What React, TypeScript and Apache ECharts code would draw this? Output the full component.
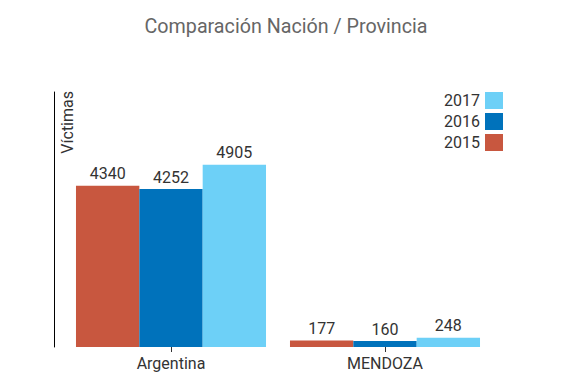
import React, { useEffect, useRef } from "react";
import * as echarts from "echarts";

const categories = ["Argentina", "MENDOZA"];
const years = ["2015", "2016", "2017"];
const values2015 = [4340, 177];
const values2016 = [4252, 160];
const values2017 = [4905, 248];
const colors = ["#c8573f", "#0072bb", "#6dd0f7"];

export default function App() {
  const ref = useRef<HTMLDivElement>(null);
  useEffect(() => {
    if (!ref.current) return;
    const chart = echarts.init(ref.current, null, { renderer: "svg" });
    const font = "Roboto, sans-serif";
    const seriesData = [values2015, values2016, values2017];
    chart.setOption({
      animation: false,
      textStyle: { fontFamily: font },
      title: {
        text: "Comparación Nación / Provincia",
        left: "center",
        top: 11,
        textStyle: { fontFamily: font, fontWeight: "normal", fontSize: 19.7, color: "#666" },
      },
      legend: {
        data: ["2017", "2016", "2015"],
        orient: "vertical",
        right: 64,
        top: 87,
        align: "right",
        itemWidth: 18,
        itemHeight: 17,
        itemGap: 4,
        icon: "rect",
        textStyle: { fontFamily: font, fontSize: 16, color: "#333" },
      },
      grid: { left: 64, right: 80, top: 92, bottom: 45 },
      xAxis: {
        type: "category",
        data: categories,
        axisLine: { show: false },
        axisTick: { show: true, alignWithLabel: true, length: 5, lineStyle: { color: "#333" } },
        axisLabel: { fontFamily: font, fontSize: 16, color: "#333", margin: 8 },
      },
      yAxis: {
        type: "value",
        min: 0,
        max: 6867,
        offset: 10,
        axisLine: { show: true, lineStyle: { color: "#000", width: 1 } },
        axisTick: { show: false },
        axisLabel: { show: false },
        splitLine: { show: false },
      },
      graphic: [
        {
          type: "text",
          x: 67,
          y: 91,
          rotation: Math.PI / 2,
          style: {
            text: "Víctimas",
            fontFamily: font,
            fontSize: 16,
            fill: "#333",
            align: "right",
            verticalAlign: "middle",
          },
        },
      ],
      series: years.map((y, i) => ({
        name: y,
        type: "bar",
        data: seriesData[i],
        barGap: "0%",
        barCategoryGap: "11.2%",
        itemStyle: { color: colors[i] },
        label: {
          show: true,
          position: "top",
          fontFamily: font,
          fontSize: 16,
          color: "#333",
          distance: 4,
        },
      })),
    });
    return () => chart.dispose();
  }, []);
  return (
    <div
      ref={ref}
      style={{ position: "absolute", left: 0, top: 0, width: 572, height: 392 }}
    />
  );
}
